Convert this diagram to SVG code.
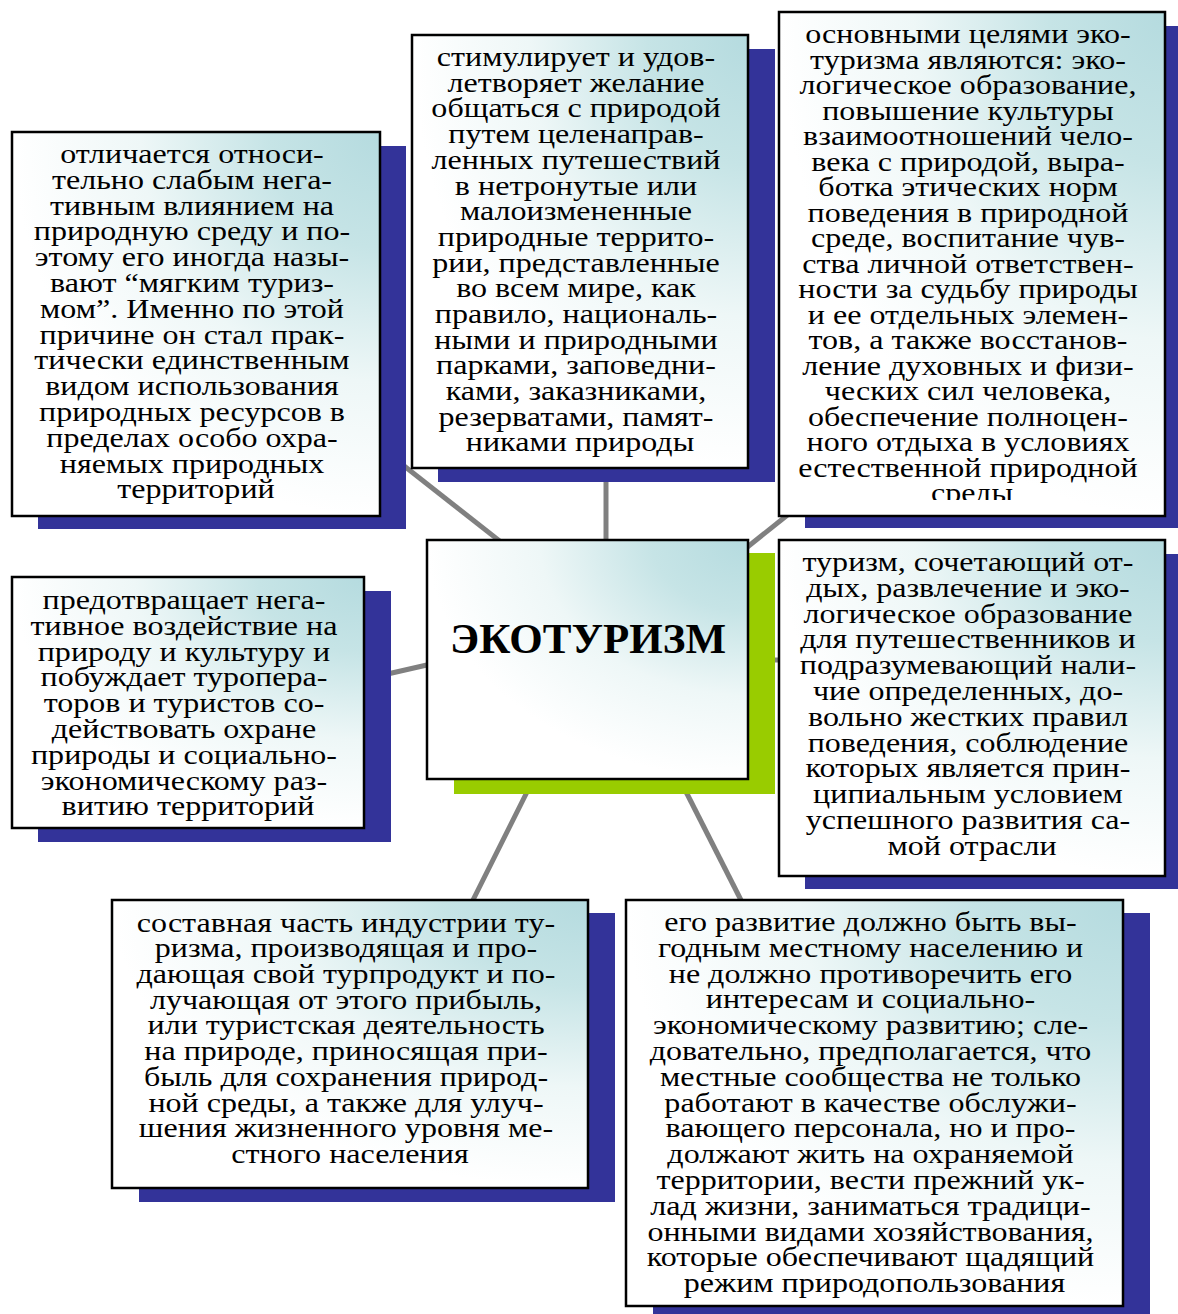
<svg xmlns="http://www.w3.org/2000/svg" width="1178" height="1314" viewBox="0 0 1178 1314">
<defs>
<radialGradient id="g" cx="1" cy="0" r="1" fx="1" fy="0" gradientUnits="objectBoundingBox">
<stop offset="0" stop-color="#B5DBDF"/>
<stop offset="0.3" stop-color="#C6E4E6"/>
<stop offset="0.65" stop-color="#EEF7F7"/>
<stop offset="1" stop-color="#FFFFFF"/>
</radialGradient>
<clipPath id="c3"><rect x="779" y="12" width="386" height="488"/></clipPath>
<style>
.box{fill:url(#g);stroke:#000;stroke-width:2.5}
.sh{fill:#333399}
.gr{fill:#99CC00}
.t{font-family:"Liberation Serif","Times New Roman",serif;font-size:26.5px;fill:#000;text-anchor:middle}
.title{font-family:"Liberation Serif","Times New Roman",serif;font-size:43px;font-weight:bold;fill:#000;text-anchor:middle}
.con{stroke:#808080;stroke-width:5;fill:none}
</style>
</defs>
<rect width="1178" height="1314" fill="#fff"/>
<g id="connectors">
<line class="con" x1="380" y1="447" x2="520" y2="557"/>
<line class="con" x1="606" y1="460" x2="606" y2="550"/>
<line class="con" x1="740" y1="553" x2="795" y2="509"/>
<line class="con" x1="760" y1="660" x2="790" y2="660"/>
<line class="con" x1="370" y1="678" x2="440" y2="662"/>
<line class="con" x1="535" y1="776" x2="468" y2="910"/>
<line class="con" x1="678" y1="776" x2="746" y2="910"/>
</g>
<g id="n1">
<rect class="sh" x="38" y="146" width="368" height="383"/>
<rect class="box" x="12" y="132" width="368" height="384"/>
<text class="t" transform="translate(196,0) scale(1.21,1)">
<tspan x="0" y="163">отличается относи-</tspan>
<tspan x="0" y="188.8">тельно слабым нега-</tspan>
<tspan x="0" y="214.6">тивным влиянием на</tspan>
<tspan x="0" y="240.4">природную среду и по-</tspan>
<tspan x="0" y="266.2">этому его иногда назы-</tspan>
<tspan x="0" y="292">вают “мягким туриз-</tspan>
<tspan x="0" y="317.8">мом”. Именно по этой</tspan>
<tspan x="0" y="343.6">причине он стал прак-</tspan>
<tspan x="0" y="369.4">тически единственным</tspan>
<tspan x="0" y="395.2">видом использования</tspan>
<tspan x="0" y="421">природных ресурсов в</tspan>
<tspan x="0" y="446.8">пределах особо охра-</tspan>
<tspan x="0" y="472.6">няемых природных</tspan>
<tspan x="0" y="498.4">территорий</tspan>
</text>
</g>
<g id="n2">
<rect class="sh" x="438" y="49" width="337" height="433"/>
<rect class="box" x="412" y="35" width="336" height="433"/>
<text class="t" transform="translate(580,0) scale(1.21,1)">
<tspan x="0" y="66">стимулирует и удов-</tspan>
<tspan x="0" y="91.7">летворяет желание</tspan>
<tspan x="0" y="117.4">общаться с природой</tspan>
<tspan x="0" y="143.1">путем целенаправ-</tspan>
<tspan x="0" y="168.8">ленных путешествий</tspan>
<tspan x="0" y="194.5">в нетронутые или</tspan>
<tspan x="0" y="220.2">малоизмененные</tspan>
<tspan x="0" y="245.9">природные террито-</tspan>
<tspan x="0" y="271.6">рии, представленные</tspan>
<tspan x="0" y="297.3">во всем мире, как</tspan>
<tspan x="0" y="323">правило, националь-</tspan>
<tspan x="0" y="348.7">ными и природными</tspan>
<tspan x="0" y="374.4">парками, заповедни-</tspan>
<tspan x="0" y="400.1">ками, заказниками,</tspan>
<tspan x="0" y="425.8">резерватами, памят-</tspan>
<tspan x="0" y="451.5">никами природы</tspan>
</text>
</g>
<g id="n3">
<rect class="sh" x="805" y="26" width="386" height="502"/>
<rect class="box" x="779" y="12" width="386" height="504"/>
<g clip-path="url(#c3)">
<text class="t" transform="translate(972,0) scale(1.21,1)">
<tspan x="0" y="43.5">основными целями эко-</tspan>
<tspan x="0" y="69">туризма являются: эко-</tspan>
<tspan x="0" y="94.5">логическое образование,</tspan>
<tspan x="0" y="120">повышение культуры</tspan>
<tspan x="0" y="145.5">взаимоотношений чело-</tspan>
<tspan x="0" y="171">века с природой, выра-</tspan>
<tspan x="0" y="196.5">ботка этических норм</tspan>
<tspan x="0" y="222">поведения в природной</tspan>
<tspan x="0" y="247.5">среде, воспитание чув-</tspan>
<tspan x="0" y="273">ства личной ответствен-</tspan>
<tspan x="0" y="298.5">ности за судьбу природы</tspan>
<tspan x="0" y="324">и ее отдельных элемен-</tspan>
<tspan x="0" y="349.5">тов, а также восстанов-</tspan>
<tspan x="0" y="375">ление духовных и физи-</tspan>
<tspan x="0" y="400.5">ческих сил человека,</tspan>
<tspan x="0" y="426">обеспечение полноцен-</tspan>
<tspan x="0" y="451.5">ного отдыха в условиях</tspan>
<tspan x="0" y="477">естественной природной</tspan>
<tspan x="0" y="502.5">среды</tspan>
</text>
</g>
</g>
<g id="n0">
<rect class="gr" x="454" y="553" width="321" height="241"/>
<rect class="box" x="427" y="540" width="321" height="239"/>
<text class="title" x="588" y="653">ЭКОТУРИЗМ</text>
</g>
<g id="n4">
<rect class="sh" x="805" y="554" width="386" height="335"/>
<rect class="box" x="779" y="540" width="386" height="336"/>
<text class="t" transform="translate(972,0) scale(1.21,1)">
<tspan x="0" y="571">туризм, сочетающий от-</tspan>
<tspan x="0" y="596.8">дых, развлечение и эко-</tspan>
<tspan x="0" y="622.6">логическое образование</tspan>
<tspan x="0" y="648.4">для путешественников и</tspan>
<tspan x="0" y="674.2">подразумевающий нали-</tspan>
<tspan x="0" y="700">чие определенных, до-</tspan>
<tspan x="0" y="725.8">вольно жестких правил</tspan>
<tspan x="0" y="751.6">поведения, соблюдение</tspan>
<tspan x="0" y="777.4">которых является прин-</tspan>
<tspan x="0" y="803.2">ципиальным условием</tspan>
<tspan x="0" y="829">успешного развития са-</tspan>
<tspan x="0" y="854.8">мой отрасли</tspan>
</text>
</g>
<g id="n5">
<rect class="sh" x="38" y="591" width="353" height="251"/>
<rect class="box" x="12" y="577" width="352" height="251"/>
<text class="t" transform="translate(188,0) scale(1.21,1)">
<tspan x="0" y="609">предотвращает нега-</tspan>
<tspan x="0" y="634.8">тивное воздействие на</tspan>
<tspan x="0" y="660.6">природу и культуру и</tspan>
<tspan x="0" y="686.4">побуждает туропера-</tspan>
<tspan x="0" y="712.2">торов и туристов со-</tspan>
<tspan x="0" y="738">действовать охране</tspan>
<tspan x="0" y="763.8">природы и социально-</tspan>
<tspan x="0" y="789.6">экономическому раз-</tspan>
<tspan x="0" y="815.4">витию территорий</tspan>
</text>
</g>
<g id="n6">
<rect class="sh" x="139" y="913" width="476" height="289"/>
<rect class="box" x="112" y="900" width="476" height="288"/>
<text class="t" transform="translate(350,0) scale(1.21,1)">
<tspan x="0" y="931.7">составная часть индустрии ту-</tspan>
<tspan x="0" y="957.4">ризма, производящая и про-</tspan>
<tspan x="0" y="983.1">дающая свой турпродукт и по-</tspan>
<tspan x="0" y="1008.8">лучающая от этого прибыль,</tspan>
<tspan x="0" y="1034.5">или туристская деятельность</tspan>
<tspan x="0" y="1060.2">на природе, приносящая при-</tspan>
<tspan x="0" y="1085.9">быль для сохранения природ-</tspan>
<tspan x="0" y="1111.6">ной среды, а также для улуч-</tspan>
<tspan x="0" y="1137.3">шения жизненного уровня ме-</tspan>
<tspan x="0" y="1163">стного населения</tspan>
</text>
</g>
<g id="n7">
<rect class="sh" x="653" y="913" width="497" height="410"/>
<rect class="box" x="626" y="900" width="497" height="406"/>
<text class="t" transform="translate(874.5,0) scale(1.21,1)">
<tspan x="0" y="931">его развитие должно быть вы-</tspan>
<tspan x="0" y="956.8">годным местному населению и</tspan>
<tspan x="0" y="982.6">не должно противоречить его</tspan>
<tspan x="0" y="1008.4">интересам и социально-</tspan>
<tspan x="0" y="1034.2">экономическому развитию; сле-</tspan>
<tspan x="0" y="1060">довательно, предполагается, что</tspan>
<tspan x="0" y="1085.8">местные сообщества не только</tspan>
<tspan x="0" y="1111.6">работают в качестве обслужи-</tspan>
<tspan x="0" y="1137.4">вающего персонала, но и про-</tspan>
<tspan x="0" y="1163.2">должают жить на охраняемой</tspan>
<tspan x="0" y="1189">территории, вести прежний ук-</tspan>
<tspan x="0" y="1214.8">лад жизни, заниматься традици-</tspan>
<tspan x="0" y="1240.6">онными видами хозяйствования,</tspan>
<tspan x="0" y="1266.4">которые обеспечивают щадящий</tspan>
<tspan x="0" y="1292.2">режим природопользования</tspan>
</text>
</g>
</svg>
